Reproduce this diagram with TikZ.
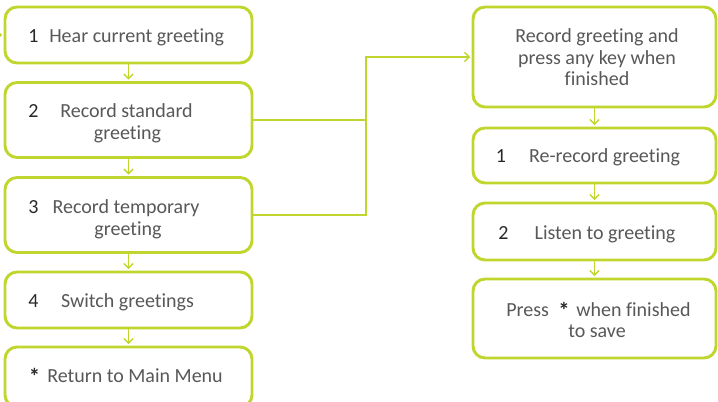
\documentclass[tikz,border=0pt]{standalone}
\usepackage{fontspec}
\setmainfont{Carlito}[Ligatures=NoCommon]
\usetikzlibrary{arrows.meta}
\definecolor{lime}{RGB}{192,214,46}
\definecolor{txt}{RGB}{88,88,88}
\definecolor{num}{RGB}{40,40,40}
\begin{document}
\begin{tikzpicture}[x=0.75pt,y=-0.75pt,
  box/.style={draw=lime,line width=2.2pt,rounded corners=9pt,inner sep=0pt,fill=white},
  lbox/.style={box,minimum width=185.25pt},
  rbox/.style={box,minimum width=182.25pt},
  lab/.style={inner sep=0pt,text=txt,font=\fontsize{15}{18}\selectfont,anchor=base},
  numl/.style={lab,text=num},
  star/.style={lab,text=num,font=\fontsize{17}{18}\selectfont\bfseries},
  link/.style={draw=lime,line width=1.1pt},
  arr/.style={link,-{Straight Barb[length=3.5pt,width=7pt]},shorten >=1pt}]
\useasboundingbox (0,0) rectangle (718,402);
\clip (0,0) rectangle (718,402);
% left column
\node[lbox,minimum height=42pt]    (b1) at (128.5,35)  {};
\node[lbox,minimum height=56.25pt] (b2) at (128.5,120) {};
\node[lbox,minimum height=56.25pt] (b3) at (128.5,215) {};
\node[lbox,minimum height=42pt]    (b4) at (128.5,300) {};
\node[lbox,minimum height=45pt]    (b5) at (128.5,377) {};
% right column
\node[rbox,minimum height=75pt]    (r1) at (594.5,57)    {};
\node[rbox,minimum height=41.25pt] (r2) at (594.5,155.5) {};
\node[rbox,minimum height=42.75pt] (r3) at (594.5,231.5) {};
\node[rbox,minimum height=59.25pt] (r4) at (594.5,318.5) {};
% texts left
\node[numl] (n1) at (33.5,43) {1};
\node[lab,anchor=base west] (t1) at (49,43) {Hear current greeting};
\node[numl] (n2) at (33.5,118) {2};
\node[lab] (t2a) at (126.5,118) {Record standard};
\node[lab] (t2b) at (127.5,139.5) {greeting};
\node[numl] (n3) at (33.5,214) {3};
\node[lab] (t3a) at (126,214) {Record temporary};
\node[lab] (t3b) at (128,235.5) {greeting};
\node[numl] (n4) at (33.5,308) {4};
\node[lab] (t4) at (127.5,308) {Switch greetings};
\node[star] (n5) at (34.5,385) {*};
\node[lab,anchor=base west] (t5) at (47,383) {Return to Main Menu};
% texts right
\node[lab] (t6a) at (597,43) {Record greeting and};
\node[lab] (t6b) at (597,64.5) {press any key when};
\node[lab] (t6c) at (597,86) {finished};
\node[numl] (n6) at (501,163) {1};
\node[lab] (t7) at (604.5,163) {Re-record greeting};
\node[numl] (n7) at (503.5,240) {2};
\node[lab] (t8) at (605,240) {Listen to greeting};
\node[lab,anchor=base west] (t9a) at (506,317) {Press};
\node[star] (n8) at (564,319) {*};
\node[lab,anchor=base west] (t9b) at (576,317) {when finished};
\node[lab] (t9c) at (597,338) {to save};
% connectors
\coordinate (in) at (-20,35);
\draw[arr] (in) -- (b1.west);
\draw[arr] (b1.south) -- (b2.north);
\draw[arr] (b2.south) -- (b3.north);
\draw[arr] (b3.south) -- (b4.north);
\draw[arr] (b4.south) -- (b5.north);
\draw[arr] (r1.south) -- (r2.north);
\draw[arr] (r2.south) -- (r3.north);
\draw[arr] (r3.south) -- (r4.north);
\coordinate (j) at (366,57);
\draw[link] (b2.east) -- (b2.east -| j);
\draw[arr] (b3.east) -- (b3.east -| j) -- (j) -- (r1.west);
\end{tikzpicture}
\end{document}
